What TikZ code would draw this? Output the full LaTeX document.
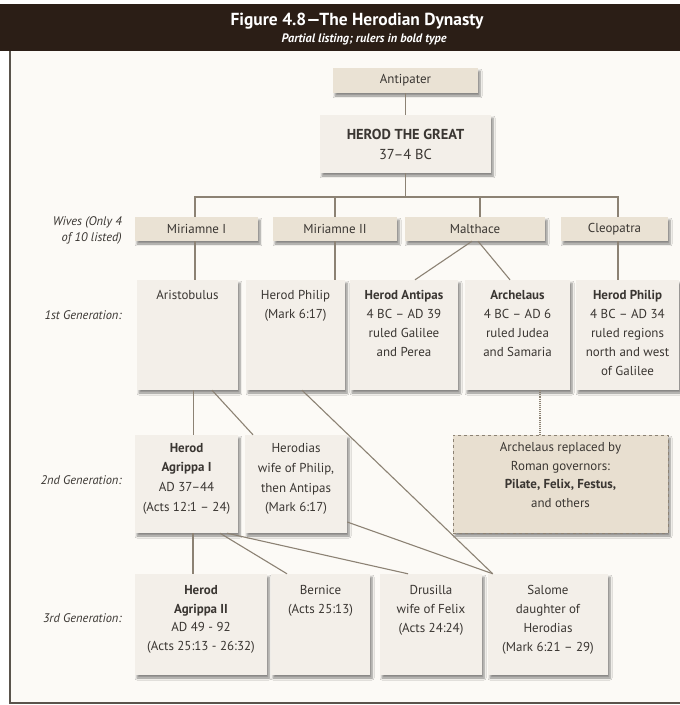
\documentclass[tikz,border=0pt]{standalone}
\usepackage{fontspec}
\setmainfont{PT Sans}
\usetikzlibrary{shadows.blur,calc}
\definecolor{hdr}{HTML}{2B1E16}
\definecolor{page}{HTML}{FCFAF6}
\definecolor{boxA}{HTML}{EAE2D4}
\definecolor{boxB}{HTML}{F3EFE9}
\definecolor{boxC}{HTML}{E8DFD0}
\definecolor{lnc}{HTML}{8C8274}
\definecolor{txt}{HTML}{3A3632}
\definecolor{frm}{HTML}{5A544C}
\tikzset{
  gbox/.style={draw=none, fill=boxB, inner sep=0pt,
    blur shadow={shadow xshift=2bp, shadow yshift=-3bp, shadow blur steps=6, shadow opacity=45}},
  wbox/.style={gbox, fill=boxA},
  dbox/.style={gbox, fill=boxC, draw=lnc, dashed, line width=0.9bp},
  tx/.style={text=txt, font=\fontsize{13}{19}\selectfont, align=center, inner sep=0pt},
  lab/.style={text=txt, font=\fontsize{12.5}{16}\selectfont\itshape, align=right, inner sep=0pt, anchor=east},
  conn/.style={draw=lnc, line width=1.1bp},
}
\begin{document}
\begin{tikzpicture}[x=1bp,y=-1bp]
\useasboundingbox (0,0) rectangle (680,705);
\fill[white] (0,0) rectangle (680,705);
\fill[page] (10,51) rectangle (680,703);
\fill[hdr] (0,4) rectangle (680,51);
\draw[frm, line width=1.5bp] (10,51) -- (10,703) -- (680,703);
\node[text=white, font=\fontsize{17.5}{20}\selectfont\bfseries, inner sep=0pt] (title) at (357,21) {Figure 4.8—The Herodian Dynasty};
\node[text=white, font=\fontsize{12.3}{14}\selectfont\bfseries\itshape, inner sep=0pt] (subtitle) at (364,39) {Partial listing; rulers in bold type};

% boxes
\node[wbox, minimum width=145bp, minimum height=25bp] (antip) at (405.5,80.5) {};
\node[gbox, minimum width=171bp, minimum height=58bp] (herod) at (405.5,144) {};
\node[wbox, minimum width=123bp, minimum height=24bp] (mar1) at (196.5,229) {};
\node[wbox, minimum width=124bp, minimum height=24bp] (mar2) at (335,229) {};
\node[wbox, minimum width=140bp, minimum height=24bp] (malt) at (475,229) {};
\node[wbox, minimum width=107bp, minimum height=24bp] (cleo) at (614.5,229) {};

\node[gbox, minimum width=101bp, minimum height=110bp] (aris) at (187.5,335) {};
\node[gbox, minimum width=99bp, minimum height=110bp] (hphil) at (295.5,335) {};
\node[gbox, minimum width=108bp, minimum height=110bp] (antipas) at (404,335) {};
\node[gbox, minimum width=105bp, minimum height=110bp] (archel) at (517.5,335) {};
\node[gbox, minimum width=103bp, minimum height=110bp] (hphil2) at (627.5,335) {};

\node[gbox, minimum width=103bp, minimum height=98bp] (agr1) at (186.5,484) {};
\node[gbox, minimum width=102bp, minimum height=98bp] (herodias) at (296,484) {};
\node[dbox, minimum width=215bp, minimum height=98bp] (roman) at (560.5,484) {};

\node[gbox, minimum width=132bp, minimum height=101bp] (agr2) at (201,624.5) {};
\node[gbox, minimum width=99bp, minimum height=101bp] (bern) at (320.5,624.5) {};
\node[gbox, minimum width=102bp, minimum height=101bp] (drus) at (431,624.5) {};
\node[gbox, minimum width=120bp, minimum height=101bp] (salome) at (548,624.5) {};

% texts
\node[tx] (antipT) at (antip) {Antipater};
\node[tx, font=\fontsize{14.5}{20}\selectfont] (herodT) at (herod) {\textbf{HEROD THE GREAT}\\37–4 BC};
\node[tx] (mar1T) at (mar1) {Miriamne I};
\node[tx] (mar2T) at (mar2) {Miriamne II};
\node[tx] (maltT) at (malt) {Malthace};
\node[tx] (cleoT) at (cleo) {Cleopatra};

\node[tx, anchor=north] (arisT) at ([yshift=-10.5bp]aris.north) {Aristobulus};
\node[tx, anchor=north] (hphilT) at ([yshift=-10.5bp]hphil.north) {Herod Philip\\(Mark 6:17)};
\node[tx, anchor=north] (antipasT) at ([yshift=-10.5bp]antipas.north) {\textbf{Herod Antipas}\\4 BC – AD 39\\ruled Galilee\\and Perea};
\node[tx, anchor=north] (archelT) at ([yshift=-10.5bp]archel.north) {\textbf{Archelaus}\\4 BC – AD 6\\ruled Judea\\and Samaria};
\node[tx, anchor=north] (hphil2T) at ([yshift=-10.5bp]hphil2.north) {\textbf{Herod Philip}\\4 BC – AD 34\\ruled regions\\north and west\\of Galilee};

\node[tx, anchor=north, font=\fontsize{13}{20}\selectfont] (agr1T) at ([yshift=-8bp]agr1.north) {\textbf{Herod}\\\textbf{Agrippa I}\\AD 37–44\\(Acts 12:1 – 24)};
\node[tx, anchor=north, font=\fontsize{13}{20}\selectfont] (herodiasT) at ([yshift=-8bp]herodias.north) {Herodias\\wife of Philip,\\then Antipas\\(Mark 6:17)};
\node[tx, anchor=north, font=\fontsize{13}{18.5}\selectfont] (romanT) at ([yshift=-8bp]roman.north) {Archelaus replaced by\\Roman governors:\\\textbf{Pilate, Felix, Festus,}\\and others};

\node[tx, anchor=north] (agr2T) at ([yshift=-11bp]agr2.north) {\textbf{Herod}\\\textbf{Agrippa II}\\AD 49 - 92\\(Acts 25:13 - 26:32)};
\node[tx, anchor=north] (bernT) at ([yshift=-11bp]bern.north) {Bernice\\(Acts 25:13)};
\node[tx, anchor=north] (drusT) at ([yshift=-11bp]drus.north) {Drusilla\\wife of Felix\\(Acts 24:24)};
\node[tx, anchor=north] (salomeT) at ([yshift=-11bp]salome.north) {Salome\\daughter of\\Herodias\\(Mark 6:21 – 29)};

% row labels
\node[lab] (labW) at (122,230) {Wives (Only 4\\of 10 listed)};
\node[lab] (lab1) at (122,315) {1st Generation:};
\node[lab] (lab2) at (122,480) {2nd Generation:};
\node[lab] (lab3) at (122,618) {3rd Generation:};

% connectors
\coordinate (barL) at (195,197);
\coordinate (barR) at (618,197);
\draw[conn] (antip.south) -- (antip.south |- herod.north);
\draw[conn] (herod.south) -- (herod.south |- barL);
\draw[conn] (barL |- mar1.north) -- (barL) -- (barR) -- (barR |- cleo.north);
\draw[conn] (mar2.north) -- (mar2.north |- barL);
\draw[conn] ([xshift=5bp]malt.north) -- ([xshift=5bp]malt.north |- barL);
\draw[conn] (barL |- mar1.south) -- (barL |- aris.north);
\draw[conn] (mar2.south) -- (mar2.south |- hphil.north);
\draw[conn] (barR |- cleo.south) -- (barR |- hphil2.north);
\draw[conn] ([xshift=-3bp]malt.south) -- ([xshift=11bp]antipas.north);
\draw[conn] ([xshift=3bp]malt.south) -- ([xshift=-7.5bp]archel.north);
\draw[conn] ([xshift=6bp]aris.south) -- ([xshift=6bp]aris.south |- agr1.north);
\draw[conn] ([xshift=24.5bp]aris.south) -- ([xshift=-43bp]herodias.north);
\draw[conn] ([xshift=6.5bp]hphil.south) -- ([xshift=5bp]salome.north west);
\draw[conn, densely dotted, line width=1.3bp] ([xshift=22.5bp]archel.south) -- ([xshift=22.5bp]archel.south |- roman.north);
\draw[conn] ([xshift=6.5bp]agr1.south) -- ([xshift=6.5bp]agr1.south |- agr2.north);
\draw[conn] ([xshift=33.5bp]agr1.south) -- ([xshift=-33.5bp]bern.north);
\draw[conn] ([xshift=40.5bp]agr1.south) -- ([xshift=-23bp]drus.north);
\draw[conn] ([yshift=-38bp]herodias.east) -- ([xshift=5bp]salome.north west);
\end{tikzpicture}
\end{document}
